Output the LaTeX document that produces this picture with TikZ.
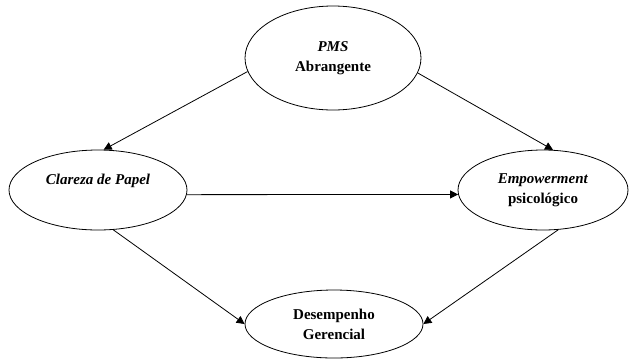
\documentclass[tikz,border=0pt]{standalone}
\usepackage{fontspec}
\setmainfont{Liberation Serif}
\usetikzlibrary{shapes,arrows.meta,positioning,calc}

\begin{document}
\begin{tikzpicture}[x=1pt,y=-1pt,
        construct/.style={draw, ellipse, line width=0.8pt, inner sep=0pt, align=center,
            font=\bfseries\fontsize{15}{20}\selectfont},
        path/.style={line width=0.8pt, -{Triangle[length=8pt,width=8pt]}}]
        % Frame
        \useasboundingbox (0,0) rectangle (629,360);

        % Constructs
        \node[construct, minimum width=176pt, minimum height=104pt] (pms) at (333,58) {\textit{PMS}\\Abrangente};
        \node[construct, minimum width=178pt, minimum height=80pt] (clareza) at (98,190) {\textit{Clareza de Papel}\\[2pt]};
        \node[construct, minimum width=170pt, minimum height=80pt] (empow) at (543,190) {\textit{Empowerment}\\psicológico};
        \node[construct, minimum width=178pt, minimum height=68pt] (desemp) at (334,324) {Desempenho\\Gerencial};

        % Paths
        \draw[path] (pms.189) -- (clareza.82);
        \draw[path] (pms.-10) -- (empow.76);
        \draw[path] (clareza.-3) -- (empow.183);
        \draw[path] (clareza.-69) -- (desemp.west);
        \draw[path] (empow.-69) -- (desemp.east);
    \end{tikzpicture}
\end{document}
